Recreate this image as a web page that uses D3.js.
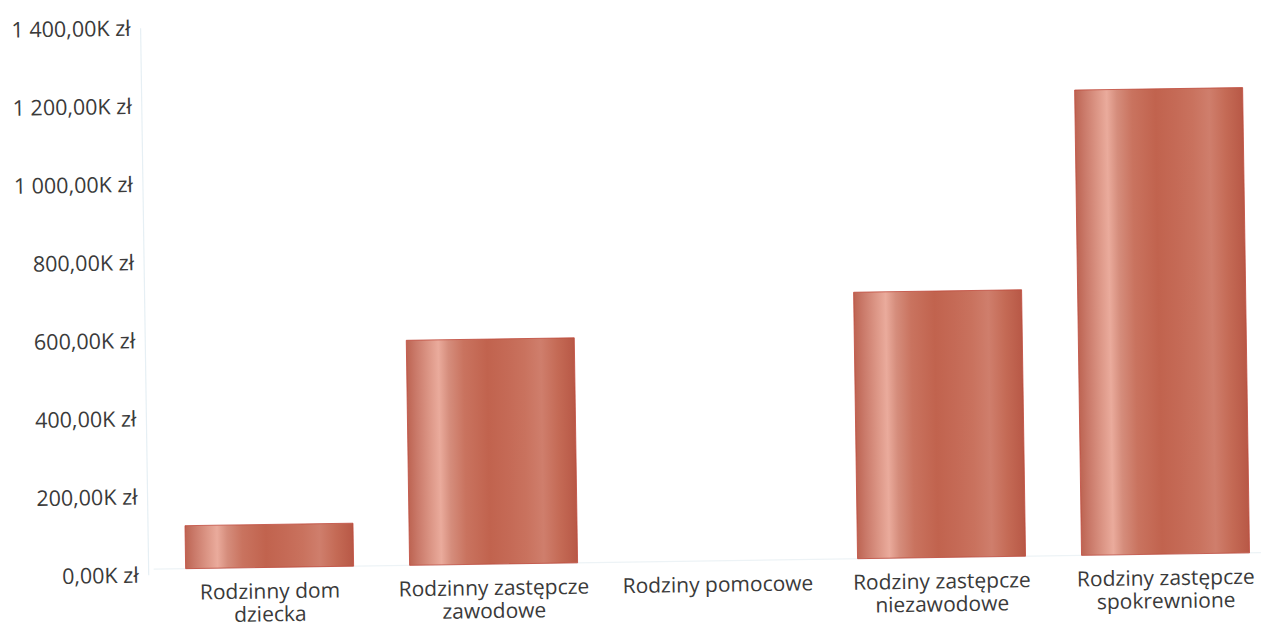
<!DOCTYPE html>
<html>
<head>
<meta charset="utf-8">
<script src="https://cdn.jsdelivr.net/npm/d3@7"></script>
<style>
  body { margin: 0; background: #fff; }
  text { font-family: "Open Sans", sans-serif; fill: #3a3a3a; }
</style>
</head>
<body>
<div id="chart"></div>
<script>
// data (values in thousands of zł)
var categories = [
  "Rodzinny dom\ndziecka",
  "Rodzinny zastępcze\nzawodowe",
  "Rodziny pomocowe",
  "Rodziny zastępcze\nniezawodowe",
  "Rodziny zastępcze\nspokrewnione"
];
var values = [110, 576, 0, 682, 1191];
var yTicks = [0, 200, 400, 600, 800, 1000, 1200, 1400];

var W = 1261, H = 624;

var svg = d3.select("#chart").append("svg")
  .attr("width", W)
  .attr("height", H);

// the source is a slightly tilted scan
var g = svg.append("g")
  .attr("transform", "rotate(-0.85,700,320)");

var xScale = d3.scaleBand().domain(categories).range([154, 1274])
    .paddingInner(0.25).paddingOuter(0.125),
  yScale = d3.scaleLinear().domain([0, 1400]).range([567, 20]);

var gap = 6; // bars sit a little above the zero tick

var grad = svg.append("defs").append("linearGradient")
  .attr("id", "copper")
  .attr("x1", "0%").attr("x2", "100%").attr("y1", "0%").attr("y2", "0%");
[
  [0, "#bd6452"], [0.05, "#c97868"], [0.13, "#dc9686"], [0.19, "#eaab9c"],
  [0.25, "#d58d7c"], [0.34, "#c9735f"], [0.48, "#c1634e"], [0.6, "#c56a56"],
  [0.7, "#c9725e"], [0.8, "#cf7e6c"], [0.9, "#c46a55"], [1, "#b85846"]
].forEach(function (s) {
  grad.append("stop").attr("offset", s[0]).attr("stop-color", s[1]);
});

// faint y axis line
g.append("line")
  .attr("x1", 145).attr("x2", 145)
  .attr("y1", yScale(1400)).attr("y2", yScale(0))
  .attr("stroke", "#e6eff4")
  .attr("stroke-width", 1.2);

// faint baseline
g.append("line")
  .attr("x1", 150).attr("x2", 1262)
  .attr("y1", yScale(0) - gap).attr("y2", yScale(0) - gap)
  .attr("stroke", "#edf3f6")
  .attr("stroke-width", 1.2);

var yAxis = g.append("g")
  .attr("transform", "translate(145,0)")
  .call(d3.axisLeft(yScale).tickValues(yTicks).tickSize(0).tickPadding(10)
    .tickFormat(function (d) {
      return d3.format(",.2f")(d).replace(/,/g, " ").replace(".", ",") + "K zł";
    }));
yAxis.select(".domain").remove();
yAxis.selectAll("text")
  .style("font-size", "21.5px")
  .attr("font-family", null)
  .attr("fill", "#3a3a3a");

g.selectAll(".bar")
  .data(values)
  .enter().append("rect")
  .attr("class", "bar")
  .attr("x", function (d, i) { return xScale(categories[i]); })
  .attr("y", function (d) { return yScale(d) - gap; })
  .attr("width", xScale.bandwidth())
  .attr("height", function (d) { return d > 0 ? yScale(0) - yScale(d) : 0; })
  .attr("fill", "url(#copper)")
  .attr("stroke", "#c04a3c")
  .attr("stroke-width", 0.8);

var xAxis = g.append("g")
  .attr("transform", "translate(0," + (yScale(0) - gap) + ")")
  .call(d3.axisBottom(xScale).tickSize(0).tickPadding(0));
xAxis.select(".domain").remove();
xAxis.selectAll("text").each(function (d) {
  var t = d3.select(this).text(null)
    .attr("y", 0).attr("dy", null)
    .attr("font-family", null)
    .attr("fill", "#3a3a3a")
    .style("font-size", "21px");
  d.split("\n").forEach(function (line, k) {
    t.append("tspan").attr("x", 0).attr("y", 31 + k * 23).text(line);
  });
});
</script>
</body>
</html>
